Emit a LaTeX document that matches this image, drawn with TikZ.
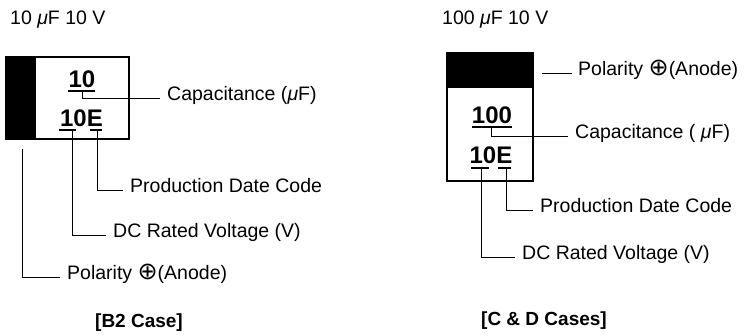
\documentclass[tikz,border=0pt]{standalone}
\usepackage{fontspec}
\setmainfont{Liberation Sans}
\newfontfamily\symfont{DejaVu Sans}
\usepackage{tikz}
\usetikzlibrary{positioning,calc}
\newcommand{\micro}{{\itshape μ}}
\newcommand{\anodesym}{{\symfont\fontsize{24}{24}\selectfont ⊕}}
\tikzset{
  heading/.style={
    anchor=west, inner sep=0pt, font=\fontsize{19.5}{23}\selectfont
  },
  tag/.style={
    anchor=mid west, inner sep=0pt, font=\fontsize{19.5}{23}\selectfont
  },
  code/.style={
    inner sep=0pt, font=\fontsize{24}{28}\selectfont\bfseries
  },
  caption/.style={
    inner sep=0pt, font=\fontsize{19}{23}\selectfont\bfseries
  },
  casebox/.style={draw=black, line width=2pt},
  uline/.style={line width=1.3pt},
  leader/.style={line width=0.9pt, shorten >=7pt}
}
\begin{document}
\begin{tikzpicture}[x=1pt, y=-1pt]
  \useasboundingbox (0,0) rectangle (750,335);

  % Left: B2 case
  \node[heading] (ttlB) at (10,20) {10 \micro F 10 V};
  \fill (6,57) rectangle (36,139);
  \draw[casebox] (6,57) rectangle (129,139);
  \node[code] (capB) at (82,79) {10};
  \node[code] (codeB) at (81.5,118) {10E};
  \draw[uline] (68,91) -- (95,91);
  \draw[uline] (59,130) -- (76,130);
  \draw[uline] (90,130) -- (102,130);
  \coordinate (capBt) at (82,91);
  \coordinate (voltBt) at (72,130);
  \coordinate (dateBt) at (97,130);
  \coordinate (polBt) at (22,149);

  \node[tag] (capBl) at (167,98) {Capacitance (\micro F)};
  \node[tag] (dateBl) at (130,190) {Production Date Code};
  \node[tag] (voltBl) at (113,235) {DC Rated Voltage (V)};
  \node[tag] (polBl) at (67,277) {Polarity \anodesym(Anode)};
  \node[caption] (caseB) at (139,323) {[B2 Case]};

  \draw[leader] (capBt)  |- (capBl.mid west);
  \draw[leader] (dateBt) |- (dateBl.mid west);
  \draw[leader] (voltBt) |- (voltBl.mid west);
  \draw[leader] (polBt)  |- (polBl.mid west);

  % Right: C & D cases
  \node[heading] (ttlC) at (442,20) {100 \micro F 10 V};
  \fill (447,53) rectangle (533,88);
  \draw[casebox] (447,53) rectangle (533,181);
  \node[code] (capC) at (492,115) {100};
  \node[code] (codeC) at (491,155) {10E};
  \draw[uline] (472,127) -- (512,127);
  \draw[uline] (471,168) -- (489,168);
  \draw[uline] (498,168) -- (511,168);
  \coordinate (capCt) at (491,127);
  \coordinate (voltCt) at (481,168);
  \coordinate (dateCt) at (506,168);
  \coordinate (polCt) at (542,73);

  \node[tag] (polCl) at (578,73) {Polarity \anodesym(Anode)};
  \node[tag] (capCl) at (575,136) {Capacitance ( \micro F)};
  \node[tag] (dateCl) at (540,210) {Production Date Code};
  \node[tag] (voltCl) at (522,257) {DC Rated Voltage (V)};
  \node[caption] (caseC) at (544,321) {[C \& D Cases]};

  \draw[leader, shorten >=6pt] (polCt) -- (polCl.mid west);
  \draw[leader] (capCt)  |- (capCl.mid west);
  \draw[leader] (dateCt) |- (dateCl.mid west);
  \draw[leader] (voltCt) |- (voltCl.mid west);
\end{tikzpicture}
\end{document}
